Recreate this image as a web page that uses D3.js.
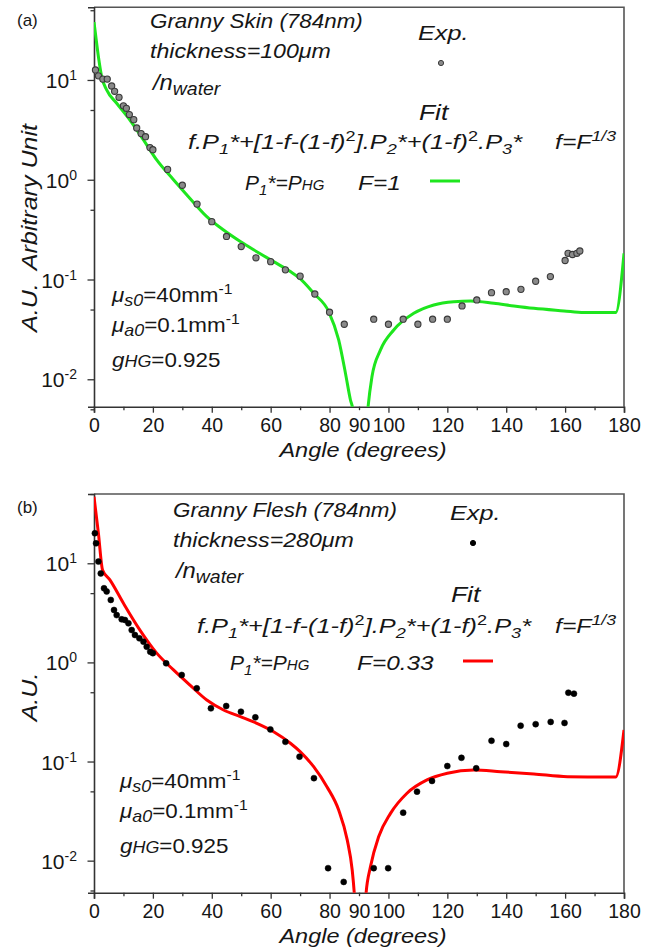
<!DOCTYPE html>
<html><head><meta charset="utf-8">
<script src="https://cdn.jsdelivr.net/npm/d3@7"></script>
<style>
html,body{margin:0;padding:0;background:#fff;}
svg text{font-family:"Liberation Sans",Arial,sans-serif;fill:#161616;white-space:pre;}
</style></head>
<body><svg id="c" width="662" height="951"></svg>
<script>
// ---------------- data ----------------
const xTicks = [0,10,20,30,40,50,60,70,80,90,100,110,120,130,140,150,160,170,180];
const xLabels = [0,20,40,60,80,90,100,120,140,160,180];
const yMajor = [0.01,0.1,1,10];
const yMinor = [0.005,0.05,0.5,5,50];
const yExp = {0.01:"-2",0.1:"-1",1:"0",10:"1"};

// (a) Granny Skin - experimental
const expAngleA = [0.5,1.5,3,4.5,6,7,8.5,10,11,12,13.5,14.5,16,17.5,19,20,25,30,35,40,45,50,55,60,65,70,75,80,85,95,100,105,110,115,120,125,130,135,140,145,150,155,160,161,162.5,164,165];
const expValA = [12.6,11,10.2,10.2,8.7,7.7,6.7,5.5,5.2,4.5,4.0,3.3,2.9,2.7,2.1,2.0,1.27,0.88,0.57,0.38,0.27,0.214,0.165,0.151,0.125,0.108,0.0716,0.047,0.0356,0.040,0.0356,0.040,0.0356,0.040,0.040,0.0543,0.0624,0.0738,0.0755,0.0797,0.096,0.107,0.155,0.183,0.178,0.183,0.193];
// (a) fit, F=1
const fitAngleA = [0,0.34,1.5,2.6,4.3,7.7,12.2,16.8,21.3,27,32.6,38.3,44,49.7,55.3,61,66.7,70,74.6,79.7,83.1,85.4,87.1,87.9,90.5,93,94.4,97.3,101.8,108.6,115.4,122.2,128,135.8,142.6,149.4,159.6,166.4,177.2,180];
const fitValA = [38,31.7,17.1,10.8,7.94,5.84,3.97,2.51,1.58,1.0,0.65,0.427,0.313,0.24,0.19,0.151,0.12,0.102,0.0728,0.0477,0.0248,0.0115,0.0062,0.005,0.0003,0.005,0.0106,0.0197,0.0312,0.0458,0.0556,0.060,0.061,0.0578,0.0543,0.0514,0.0484,0.0466,0.0466,0.183];

// (b) Granny Flesh - experimental
const expAngleB = [0.3,0.7,1.5,2.3,3.4,4.3,5.7,6.8,7.7,9.4,10.5,11.7,12.8,13.9,15.4,16.8,17.9,19.1,20,24.5,29.8,34.9,39.7,44.9,49.9,54.8,59.9,65,69.8,74.7,79.5,84.8,95,99.9,105,109.7,114.8,120,124.8,129.8,135,140,144.9,150,155.1,159.8,161.1,163];
const expValB = [20.1,15.9,10.4,7.9,5.6,5.2,4.27,3.38,3.0,2.72,2.68,2.48,2.12,1.89,1.75,1.62,1.44,1.28,1.24,0.98,0.747,0.548,0.344,0.363,0.318,0.279,0.211,0.158,0.112,0.068,0.0084,0.0061,0.0084,0.0084,0.0305,0.0497,0.0637,0.090,0.109,0.0855,0.162,0.150,0.230,0.238,0.251,0.245,0.495,0.484];
// (b) fit, F=0.33
const fitAngleB = [0,1.5,2.9,5.4,10,15.6,21.3,27,32.6,38.3,44,49.7,55.3,61,66.7,70,74.6,79.1,83.1,86,87.7,88.4,90.3,92.4,93.9,96.7,100.7,106.3,113.1,120,129,138.1,149.4,160.8,167.6,177.2,180];
const fitValB = [47,20,8.55,6.8,3.95,2.12,1.24,0.84,0.59,0.418,0.331,0.284,0.243,0.2,0.153,0.126,0.0887,0.0557,0.0324,0.0162,0.008,0.0047,0.0003,0.0047,0.0087,0.0175,0.030,0.0479,0.0652,0.0762,0.0822,0.079,0.0749,0.0703,0.070,0.070,0.208];

// ---------------- drawing ----------------
const svg = d3.select("#c");
const L = 94, R = 624;

function rich(g, x, y, parts, base, sx) {
  const t = g.append("text")
    .attr("transform", `translate(${x},${y}) scale(${sx || 1},1)`)
    .style("font-size", base + "px").style("font-style", "italic");
  let cur = 0;
  parts.forEach(p => {
    const s = p[0], o = p[1] || {};
    const sh = o.sh || 0;
    t.append("tspan").attr("dy", sh - cur)
      .style("font-size", (o.sz || base) + "px")
      .style("font-style", o.up ? "normal" : "italic")
      .text(s);
    cur = sh;
  });
  return t;
}

function panel(cfg) {
  const x = d3.scaleLinear().domain([0, 180]).range([L, R]);
  const y = d3.scaleLog().domain(cfg.yDomain).range([cfg.bottom, cfg.top]);
  const g = svg.append("g");
  const id = "clip" + cfg.key;
  svg.append("clipPath").attr("id", id).append("rect")
    .attr("x", L).attr("y", cfg.top).attr("width", R - L).attr("height", cfg.bottom - cfg.top);

  // frame top/right
  g.append("path").attr("d", `M${L},${cfg.top}H${R}V${cfg.bottom}`)
    .attr("fill", "none").attr("stroke", "#555").attr("stroke-width", 1.6);

  // x axis
  const xa = g.append("g").attr("transform", `translate(0,${cfg.bottom})`)
    .call(d3.axisBottom(x).tickValues(xTicks).tickSize(6).tickPadding(5)
      .tickFormat(d => xLabels.includes(d) ? d : ""));
  xa.selectAll(".tick line").attr("y2", d => xLabels.includes(d) && d !== 90 ? 6 : 3.5)
    .attr("stroke", "#333").attr("stroke-width", 1.3);
  xa.selectAll(".tick").filter(d => !xLabels.includes(d)).select("text").remove();
  xa.selectAll(".tick text").style("font-size", "19.5px").style("font-family", "Liberation Sans, Arial, sans-serif")
    .attr("fill", "#161616").attr("dy", "0.74em");
  xa.select(".domain").attr("stroke", "#333").attr("stroke-width", 1.6);

  // y axis
  const ya = g.append("g").attr("transform", `translate(${L},0)`)
    .call(d3.axisLeft(y).tickValues(yMajor.concat(yMinor)).tickSize(6).tickPadding(11).tickFormat(""));
  ya.selectAll(".tick line").attr("x2", d => yMajor.includes(d) ? -6.5 : -3.5)
    .attr("stroke", "#333").attr("stroke-width", 1.3);
  ya.select(".domain").attr("stroke", "#333").attr("stroke-width", 1.6);
  ya.selectAll(".tick").filter(d => !yMajor.includes(d)).select("text").remove();
  ya.selectAll(".tick").filter(d => yMajor.includes(d)).each(function (d) {
    const t = d3.select(this).select("text").text("").attr("dy", "0.36em")
      .style("font-size", "21px").attr("fill", "#161616").attr("x", -17);
    t.append("tspan").text("10");
    t.append("tspan").attr("dy", -8).style("font-size", "14px").text(yExp[d]);
  });

  // axis titles
  g.append("text").attr("transform", `translate(363,${cfg.bottom + 50}) scale(1.12,1)`).attr("text-anchor", "middle")
    .style("font-size", "21px").style("font-style", "italic").text("Angle (degrees)");
  g.append("text").attr("transform", `translate(37,${cfg.yTitleY}) rotate(-90) scale(1.14,1)`).attr("text-anchor", "middle")
    .style("font-size", "22px").style("font-style", "italic").text(cfg.yTitle);

  // fit line
  const line = d3.line().x(d => x(d[0])).y(d => y(d[1])).curve(d3.curveMonotoneX);
  g.append("path").datum(d3.zip(cfg.fitAngle, cfg.fitVal)).attr("d", line)
    .attr("clip-path", `url(#${id})`).attr("fill", "none")
    .attr("stroke", cfg.color).attr("stroke-width", 3);

  // experimental points
  g.append("g").selectAll("circle").data(d3.zip(cfg.expAngle, cfg.expVal)).join("circle")
    .attr("cx", d => x(d[0])).attr("cy", d => y(d[1])).attr("r", cfg.r)
    .attr("fill", cfg.ptFill).attr("stroke", cfg.ptStroke).attr("stroke-width", cfg.ptSw);

  // annotations
  g.append("text").attr("x", 17).attr("y", cfg.top + 19).style("font-size", "17px").text(cfg.tag);
  const a = cfg.ann;
  rich(g, a.tx, a.t1, [[cfg.title]], 20, 1.12);
  rich(g, a.tx, a.t2, [[cfg.thick]], 20, 1.16);
  rich(g, a.tx + 3, a.t3, [["/n", {sz: 22}], ["water", {sz: 18, sh: 5}]], 20, 1.08);
  rich(g, a.ex, a.ey, [["Exp."]], 21, 1.2);
  g.append("circle").attr("cx", a.ex + 23).attr("cy", a.ey + 23).attr("r", 2.6)
    .attr("fill", cfg.ptFill).attr("stroke", cfg.ptStroke).attr("stroke-width", 1);
  rich(g, a.ex + 1, a.fy, [["Fit"]], 22, 1.2);
  rich(g, a.fx, a.fmy, [["f.P"], ["1", {sz: 15, sh: 5}], ["*+[1-f-(1-f)"], ["2", {sz: 15, sh: -8, up: true}],
    ["].P"], ["2", {sz: 15, sh: 5}], ["*+(1-f)"], ["2", {sz: 15, sh: -8, up: true}], [".P"], ["3", {sz: 15, sh: 5}], ["*"]], 21, 1.21);
  rich(g, 555, a.fmy, [["f=F"], ["1/3", {sz: 15, sh: -8}]], 21, 1.18);
  rich(g, a.px, a.py, [["P"], ["1", {sz: 15, sh: 5}], ["*=P"], ["HG", {sz: 15}]], 21, 1.0);
  rich(g, a.Fx, a.py, [[cfg.Ftxt]], 20, 1.22);
  g.append("line").attr("x1", a.lx).attr("x2", a.lx + 30).attr("y1", a.py - 9).attr("y2", a.py - 9)
    .attr("stroke", cfg.color).attr("stroke-width", 3);
  rich(g, a.mx, a.m1, [["μ"], ["s0", {sz: 16, sh: 4}], ["=40mm", {up: true}], ["-1", {sz: 14, sh: -8, up: true}]], 20, 1.12);
  rich(g, a.mx, a.m2, [["μ"], ["a0", {sz: 16, sh: 4}], ["=0.1mm", {up: true}], ["-1", {sz: 14, sh: -8, up: true}]], 20, 1.12);
  rich(g, a.mx, a.m3, [["g"], ["HG", {sz: 16}], ["=0.925", {up: true}]], 20, 1.12);
}

panel({
  key: "A", top: 7.3, bottom: 406.7, yDomain: [0.00531, 53.5], tag: "(a)",
  yTitle: "A.U.  Arbitrary Unit", yTitleY: 228,
  fitAngle: fitAngleA, fitVal: fitValA, expAngle: expAngleA, expVal: expValA,
  color: "#1ee61e", ptFill: "#8a8a8a", ptStroke: "#3a3a3a", ptSw: 1.1, r: 3.1,
  title: "Granny Skin (784nm)", thick: "thickness=100μm", Ftxt: "F=1",
  ann: {tx: 150, t1: 28, t2: 58, t3: 90, ex: 418, ey: 40, fy: 120, fx: 188, fmy: 149,
        px: 245, py: 190, Fx: 358, lx: 430, mx: 112, m1: 302, m2: 332, m3: 367}
});
panel({
  key: "B", top: 494, bottom: 892.7, yDomain: [0.00475, 50], tag: "(b)",
  yTitle: "A.U.", yTitleY: 697,
  fitAngle: fitAngleB, fitVal: fitValB, expAngle: expAngleB, expVal: expValB,
  color: "#ff0000", ptFill: "#000", ptStroke: "#000", ptSw: 0.5, r: 3,
  title: "Granny Flesh (784nm)", thick: "thickness=280μm", Ftxt: "F=0.33",
  ann: {tx: 173, t1: 517, t2: 547, t3: 578, ex: 450, ey: 520, fy: 602, fx: 197, fmy: 633,
        px: 230, py: 670, Fx: 357, lx: 463, mx: 120, m1: 788, m2: 818, m3: 853}
});
</script></body></html>
